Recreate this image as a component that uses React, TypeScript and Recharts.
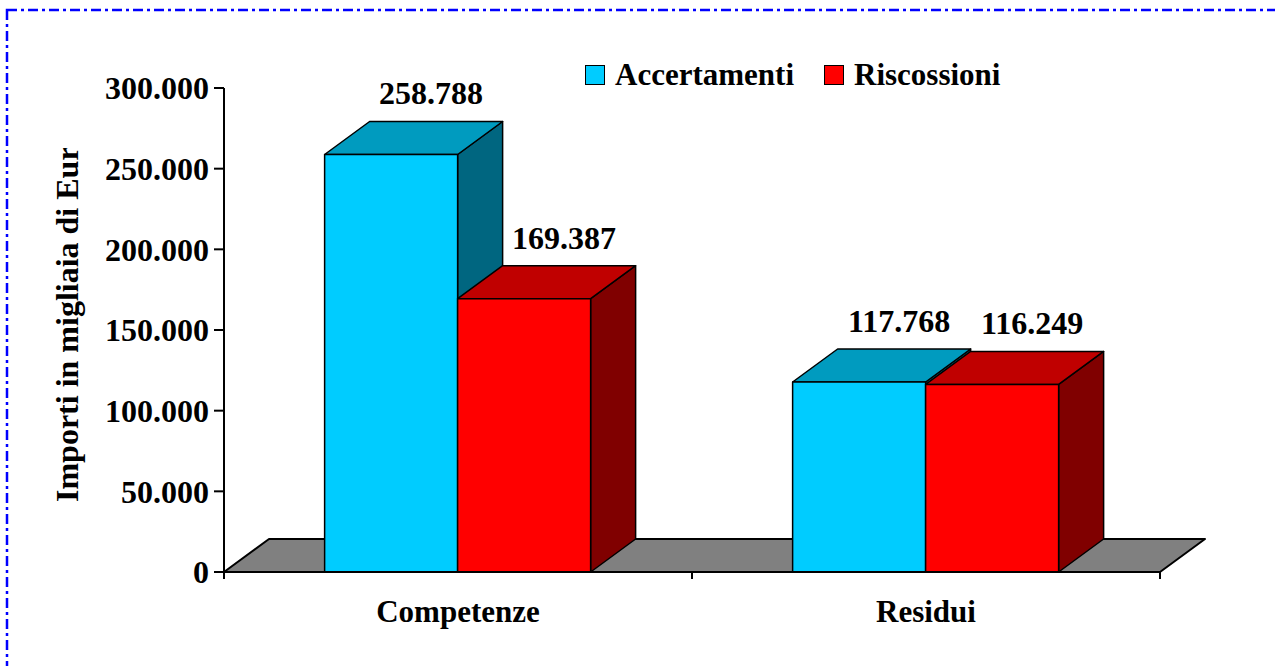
import { Bar, BarChart, LabelList, Legend, ReferenceArea, XAxis, YAxis } from "recharts";

const categories = ["Competenze", "Residui"];
const accertamenti = [258788, 117768];
const riscossioni = [169387, 116249];
const yTicks = [0, 50000, 100000, 150000, 200000, 250000, 300000];

const data = categories.map((name, i) => ({
  name,
  accertamenti: accertamenti[i],
  riscossioni: riscossioni[i],
}));

const font = '"Liberation Serif", "Times New Roman", serif';
const blue = "#00CCFF";
const red = "#FF0000";
const shades: Record<string, { top: string; side: string }> = {
  [blue]: { top: "#009BBF", side: "#006680" },
  [red]: { top: "#C00000", side: "#800000" },
};

// 3d depth offset
const DX = 45;
const DY = -33;

const fmt = (v: number) => String(v).replace(/\B(?=(\d{3})+(?!\d))/g, ".");

const pts = (arr: number[][]) => arr.map((p) => p.join(",")).join(" ");

function Box3D(props: any) {
  const { x, y, width: w, height: h, fill } = props;
  const s = shades[fill] ?? { top: fill, side: fill };
  const side = pts([[x + w, y], [x + w + DX, y + DY], [x + w + DX, y + h + DY], [x + w, y + h]]);
  const top = pts([[x, y], [x + DX, y + DY], [x + w + DX, y + DY], [x + w, y]]);
  return (
    <g stroke="#000" strokeWidth={1.5} strokeLinejoin="round">
      <polygon points={side} fill={s.side} />
      <polygon points={top} fill={s.top} />
      <rect x={x} y={y} width={w} height={h} fill={fill} />
    </g>
  );
}

function Floor(props: any) {
  const { x, y, width: w, height: h } = props;
  const base = y + h;
  const poly = pts([[x, base], [x + DX, base + DY], [x + w + DX, base + DY], [x + w, base]]);
  return (
    <g stroke="#000" strokeWidth={2}>
      <polygon points={poly} fill="#808080" strokeLinejoin="round" />
      {[0, 0.5, 1].map((f) => (
        <line key={f} x1={x + w * f} y1={base} x2={x + w * f} y2={base + 7} />
      ))}
    </g>
  );
}

function ValueLabel(props: any) {
  const { x, y, width, value } = props;
  return (
    <text
      x={x + width / 2 + 40}
      y={y - 50}
      textAnchor="middle"
      fontFamily={font}
      fontWeight="bold"
      fontSize={32}
      fill="#000"
    >
      {fmt(value)}
    </text>
  );
}

function YTitle() {
  return (
    <g>
      <defs>
        <clipPath id="ytitle-clip" clipPathUnits="userSpaceOnUse">
          <rect x={0} y={148} width={120} height={500} />
        </clipPath>
      </defs>
      <g clipPath="url(#ytitle-clip)">
        <text
          x={78}
          y={502}
          transform="rotate(-90, 78, 502)"
          textAnchor="start"
          fontFamily={font}
          fontWeight="bold"
          fontSize={32}
          fill="#000"
        >
          Importi in migliaia di Euro
        </text>
      </g>
    </g>
  );
}

function LegendBox({ payload }: any) {
  return (
    <div style={{ display: "flex", alignItems: "center", height: 30, fontFamily: font, fontWeight: "bold", fontSize: 31, lineHeight: "30px", whiteSpace: "nowrap" }}>
      {(payload ?? []).map((p: any, i: number) => (
        <div key={p.value} style={{ display: "flex", alignItems: "center", marginLeft: i ? 30 : 0 }}>
          <span style={{ width: 18, height: 18, background: p.color, border: "1.5px solid #000", marginRight: 10 }} />
          <span>{p.value}</span>
        </div>
      ))}
    </div>
  );
}

export default function App() {
  return (
    <div style={{ position: "absolute", left: 0, top: 0, width: 1275, height: 666, background: "#fff" }}>
      <BarChart
        width={1275}
        height={666}
        data={data}
        margin={{ top: 88, right: 115, left: 0, bottom: 34 }}
        barCategoryGap="21.5%"
        barGap={0}
      >
        <ReferenceArea y1={0} y2={10000} shape={<Floor />} ifOverflow="visible" />
        <XAxis
          dataKey="name"
          height={60}
          axisLine={{ stroke: "#000", strokeWidth: 2 }}
          tickLine={false}
          tickSize={0}
          tickMargin={28}
          tick={{ fontFamily: font, fontWeight: "bold", fontSize: 31, fill: "#000" }}
        />
        <YAxis
          width={224}
          domain={[0, 300000]}
          ticks={yTicks}
          interval={0}
          tickFormatter={fmt}
          axisLine={{ stroke: "#000", strokeWidth: 2 }}
          tickLine={{ stroke: "#000", strokeWidth: 2 }}
          tickSize={10}
          tickMargin={5}
          tick={{ fontFamily: font, fontWeight: "bold", fontSize: 32, fill: "#000" }}
          label={{ content: () => <YTitle /> }}
        />
        <Legend
          layout="horizontal"
          verticalAlign="middle"
          align="center"
          content={<LegendBox />}
          wrapperStyle={{ top: 60, left: 585, width: "auto", height: 30 }}
        />
        <Bar dataKey="accertamenti" name="Accertamenti" fill={blue} shape={<Box3D />} isAnimationActive={false}>
          <LabelList dataKey="accertamenti" content={<ValueLabel />} />
        </Bar>
        <Bar dataKey="riscossioni" name="Riscossioni" fill={red} shape={<Box3D />} isAnimationActive={false}>
          <LabelList dataKey="riscossioni" content={<ValueLabel />} />
        </Bar>
      </BarChart>
      <svg width={1275} height={666} style={{ position: "absolute", left: 0, top: 0, pointerEvents: "none" }}>
        <rect x={7} y={10} width={1300} height={700} fill="none" stroke="#0000FF" strokeWidth={2.5} strokeDasharray="10 4 3 4" />
      </svg>
    </div>
  );
}
